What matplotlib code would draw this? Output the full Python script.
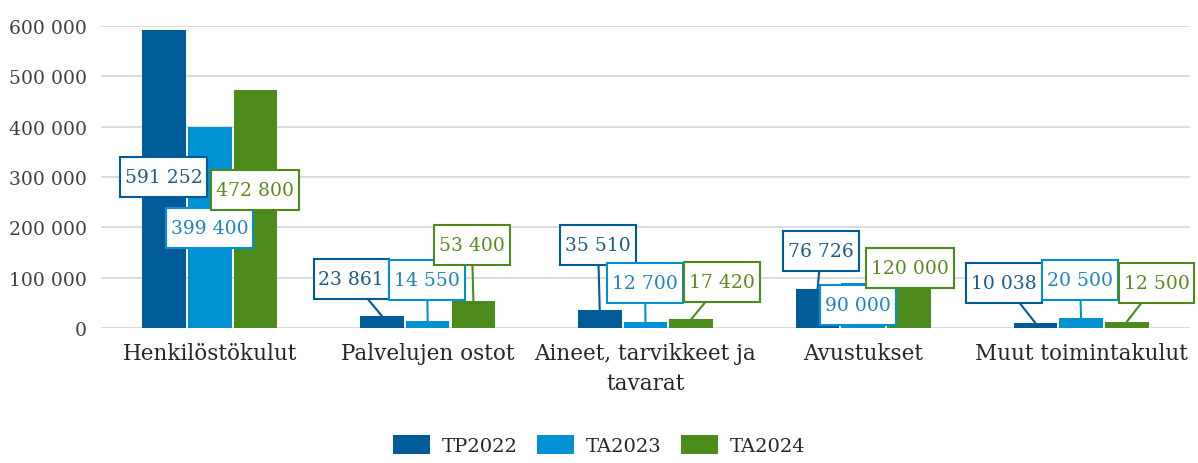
import matplotlib
matplotlib.use("Agg")
import matplotlib.pyplot as plt
from matplotlib.path import Path
import numpy as np

categories = ["Henkilöstökulut", "Palvelujen ostot", "Aineet, tarvikkeet ja\ntavarat",
              "Avustukset", "Muut toimintakulut"]
series_names = ["TP2022", "TA2023", "TA2024"]
tp2022 = [591252, 23861, 35510, 76726, 10038]
ta2023 = [399400, 14550, 12700, 90000, 20500]
ta2024 = [472800, 53400, 17420, 120000, 12500]
yticks = [0, 100000, 200000, 300000, 400000, 500000, 600000]

colors = ["#005C99", "#0091D5", "#4C8A1C"]
text_colors = ["#1F5A8C", "#1C84C0", "#5A8A1E"]

# label box positions (data coords) per series, per category
label_pos = [
    [(-0.211, 300000), (0.648, 97350), (1.782, 164900), (2.806, 153000), (3.646, 89400)],
    [(0.0, 198700), (0.997, 95400), (1.998, 89400), (2.976, 45700), (3.995, 95400)],
    [(0.207, 274200), (1.203, 164900), (2.351, 91400), (3.214, 119200), (4.348, 89400)],
]


def label_box(x0, y0, width, height, mutation_size):
    px = 0.25 * mutation_size
    py = 0.58 * mutation_size
    x0, y0 = x0 - px, y0 - py
    x1, y1 = x0 + width + 2 * px, y0 + height + 2 * py
    return Path([(x0, y0), (x1, y0), (x1, y1), (x0, y1), (x0, y0)], closed=True)


plt.rcParams['font.family'] = ['DejaVu Serif']
fig = plt.figure(figsize=(11.98, 4.64), dpi=100)
ax = fig.add_axes([0.0843, 0.2909, 0.9090, 0.6509])

x = np.arange(len(categories))
offsets = [-0.21, 0.0, 0.21]
width = 0.2
data = [tp2022, ta2023, ta2024]
handles = []
for i, vals in enumerate(data):
    b = ax.bar(x + offsets[i], vals, width, color=colors[i], label=series_names[i], zorder=2)
    handles.append(b)


def fmt(v):
    return f"{v:,}".replace(",", " ")


for i, vals in enumerate(data):
    for j, v in enumerate(vals):
        lx, ly = label_pos[i][j]
        arrow = None
        if ly > v:
            arrow = dict(arrowstyle='-', color=colors[i], lw=1.5, shrinkA=0, shrinkB=0)
        ax.annotate(fmt(v), xy=(x[j] + offsets[i], v), xytext=(lx, ly),
                    textcoords='data', ha='center', va='center',
                    fontsize=13.5, color=text_colors[i], zorder=5,
                    bbox=dict(boxstyle=label_box, fc='white', ec=colors[i], lw=1.5),
                    arrowprops=arrow, annotation_clip=False)

ax.set_xlim(-0.5, 4.5)
ax.set_ylim(0, 600000)
ax.set_yticks(yticks)
ax.set_yticklabels([fmt(t) for t in yticks], fontsize=13.5, color="#404040")
ax.set_xticks(x)
ax.set_xticklabels(categories, fontsize=15.5, color="#262626", linespacing=1.45)
ax.tick_params(axis='y', length=0, pad=10)
ax.tick_params(axis='x', length=0, pad=10)
ax.grid(axis='y', color="#D9D9D9", lw=1.3, zorder=0)
ax.set_axisbelow(True)
for s in ax.spines.values():
    s.set_visible(False)

fig.legend(handles=handles, labels=series_names, loc='center', bbox_to_anchor=(0.5, 0.039),
           ncol=3, frameon=False, fontsize=14, handlelength=1.9, handleheight=1.1,
           columnspacing=1.0, handletextpad=0.6, labelcolor="#262626")

fig.savefig("out.png", dpi=100)
